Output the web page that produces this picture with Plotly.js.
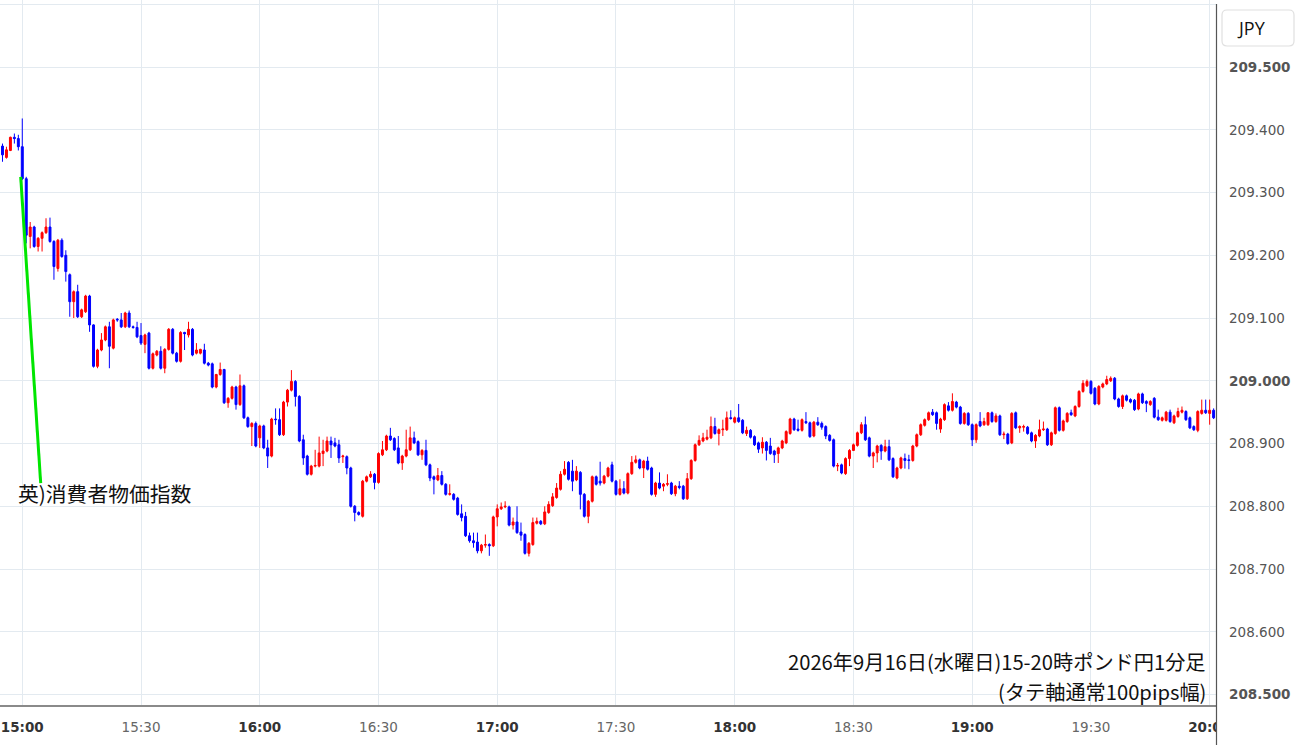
<!DOCTYPE html>
<html>
<head>
<meta charset="utf-8">
<script src="https://cdn.plot.ly/plotly-3.0.1.min.js"></script>
<style>
  html, body { margin: 0; padding: 0; background: #ffffff; }
  #chart { width: 1300px; height: 745px; }
</style>
</head>
<body>
<div id="chart"></div>
<script>
// GBP/JPY 1-minute candles, 2026-09-16 14:55 - 20:01 (one entry per minute)
const firstMinute = -5; // minutes relative to 15:00

const openP = [
209.374,209.356,209.367,209.388,209.386,209.373,209.322,209.230,209.245,209.214,
209.227,209.236,209.245,209.222,209.179,209.224,209.200,209.169,209.126,209.142,
209.102,209.110,209.135,209.089,209.023,209.049,209.065,209.086,209.052,209.098,
209.097,209.086,209.108,209.086,209.085,209.072,209.058,209.076,209.020,209.041,
209.047,209.020,209.050,209.082,209.044,209.031,209.077,209.073,209.082,209.044,
209.044,209.049,209.028,209.027,208.990,209.010,209.018,208.965,208.972,208.990,
208.962,208.992,208.941,208.927,208.932,208.909,208.928,208.893,208.880,208.939,
208.938,208.914,208.966,208.985,208.999,208.975,208.906,208.880,208.851,208.864,
208.864,208.884,208.888,208.904,208.901,208.898,208.879,208.879,208.861,208.800,
208.790,208.784,208.840,208.847,208.851,208.838,208.882,208.890,208.912,208.908,
208.893,208.869,208.880,208.890,208.909,208.903,208.882,208.889,208.866,208.847,
208.842,208.849,208.835,208.819,208.819,208.813,208.788,208.784,208.753,208.745,
208.743,208.729,208.738,208.739,208.737,208.783,208.796,208.799,208.799,208.770,
208.775,208.759,208.755,208.725,208.739,208.773,208.776,208.772,208.790,208.801,
208.814,208.827,208.851,208.870,208.856,208.842,208.854,208.819,208.784,208.808,
208.847,208.840,208.837,208.848,208.866,208.840,208.819,208.828,208.821,208.852,
208.870,208.874,208.861,208.872,208.861,208.819,208.837,208.832,208.835,208.837,
208.820,208.832,208.832,208.812,208.844,208.873,208.898,208.904,208.907,208.909,
208.927,208.916,208.922,208.922,208.941,208.934,208.941,208.937,208.916,208.921,
208.911,208.901,208.893,208.902,208.896,208.888,208.884,208.893,208.901,208.916,
208.939,208.923,208.921,208.935,208.933,208.912,208.934,208.932,208.927,208.913,
208.906,208.864,208.866,208.852,208.876,208.889,208.897,208.917,208.930,208.909,
208.880,208.885,208.897,208.888,208.895,208.876,208.845,208.861,208.876,208.874,
208.873,208.896,208.914,208.929,208.938,208.950,208.949,208.923,208.938,208.960,
208.953,208.966,208.958,208.932,208.948,208.930,208.906,208.935,208.930,208.930,
208.949,208.935,208.944,208.914,208.915,208.901,208.949,208.925,208.926,208.926,
208.917,208.904,208.912,208.922,208.923,208.898,208.916,208.957,208.921,208.935,
208.949,208.944,208.959,208.983,208.992,208.999,208.988,208.963,208.990,208.995,
209.000,209.004,208.971,208.959,208.976,208.970,208.969,208.955,208.979,208.967,
208.962,208.972,208.942,208.937,208.937,208.950,208.933,208.943,208.950,208.951,
208.941,208.927,208.921,208.948,208.953,208.948,208.953
];

const highP = [
209.378,209.373,209.389,209.394,209.392,209.418,209.325,209.253,209.247,209.229,
209.238,209.259,209.260,209.224,209.226,209.227,209.208,209.171,209.144,209.153,
209.115,209.137,209.137,209.090,209.051,209.076,209.088,209.094,209.099,209.100,
209.108,209.110,209.112,209.088,209.094,209.092,209.075,209.078,209.045,209.049,
209.055,209.052,209.084,209.084,209.046,209.079,209.078,209.094,209.084,209.060,
209.051,209.059,209.030,209.029,209.011,209.029,209.019,208.974,208.992,208.992,
209.010,208.994,208.943,208.934,208.935,208.930,208.930,208.906,208.941,208.956,
208.956,208.968,208.987,209.017,209.001,208.977,208.914,208.882,208.866,208.890,
208.911,208.906,208.911,208.911,208.909,208.906,208.882,208.881,208.863,208.802,
208.792,208.842,208.849,208.856,208.853,208.886,208.904,208.914,208.925,208.910,
208.912,208.882,208.922,208.927,208.919,208.905,208.891,208.906,208.868,208.849,
208.861,208.856,208.837,208.835,208.821,208.815,208.803,208.791,208.758,208.758,
208.758,208.740,208.755,208.741,208.785,208.803,208.806,208.808,208.801,208.782,
208.800,208.774,208.757,208.743,208.782,208.782,208.778,208.800,208.808,208.821,
208.837,208.856,208.872,208.872,208.874,208.864,208.856,208.821,208.810,208.849,
208.849,208.871,208.850,208.863,208.871,208.842,208.843,208.840,208.854,208.880,
208.881,208.876,208.874,208.879,208.863,208.839,208.854,208.837,208.851,208.839,
208.834,208.840,208.834,208.853,208.875,208.900,208.913,208.917,208.922,208.943,
208.941,208.924,208.938,208.951,208.953,208.943,208.963,208.939,208.927,208.923,
208.913,208.903,208.910,208.904,208.909,208.890,208.895,208.906,208.921,208.941,
208.941,208.938,208.940,208.950,208.935,208.936,208.942,208.935,208.929,208.915,
208.908,208.869,208.868,208.878,208.891,208.900,208.919,208.934,208.943,208.911,
208.887,208.898,208.899,208.906,208.906,208.878,208.863,208.879,208.884,208.882,
208.898,208.916,208.932,208.940,208.951,208.955,208.951,208.941,208.964,208.966,
208.980,208.968,208.960,208.950,208.950,208.932,208.932,208.950,208.941,208.950,
208.951,208.948,208.946,208.919,208.917,208.950,208.951,208.929,208.930,208.928,
208.919,208.915,208.938,208.935,208.925,208.919,208.959,208.959,208.938,208.950,
208.954,208.961,208.985,209.001,209.002,209.001,208.990,208.993,208.997,209.008,
209.007,209.006,208.973,208.978,208.978,208.972,208.971,208.981,208.981,208.969,
208.969,208.974,208.954,208.943,208.952,208.954,208.946,208.957,208.959,208.953,
208.943,208.929,208.953,208.970,208.970,208.970,208.956
];

const lowP = [
209.349,209.354,209.366,209.378,209.367,209.320,209.219,209.211,209.212,209.206,
209.206,209.234,209.220,209.161,209.174,209.196,209.158,209.102,209.100,209.100,
209.100,209.108,209.078,209.021,209.020,209.047,209.063,209.020,209.050,209.094,
209.084,209.084,209.084,209.083,209.068,209.057,209.044,209.018,209.018,209.039,
209.018,209.012,209.048,209.042,209.029,209.029,209.049,209.069,209.039,209.042,
209.042,209.026,209.023,208.988,208.988,209.008,208.963,208.957,208.970,208.954,
208.960,208.939,208.925,208.896,208.894,208.893,208.891,208.861,208.878,208.930,
208.912,208.912,208.959,208.983,208.959,208.902,208.866,208.849,208.849,208.862,
208.862,208.864,208.886,208.877,208.894,208.869,208.869,208.851,208.798,208.776,
208.785,208.782,208.838,208.845,208.827,208.836,208.880,208.888,208.904,208.888,
208.867,208.858,208.878,208.888,208.899,208.880,208.874,208.864,208.840,208.819,
208.840,208.833,208.817,208.817,208.809,208.785,208.776,208.751,208.742,208.734,
208.725,208.725,208.734,208.721,208.735,208.768,208.794,208.797,208.768,208.763,
208.756,208.745,208.723,208.720,208.737,208.771,208.770,208.770,208.788,208.799,
208.812,208.825,208.849,208.841,208.824,208.840,208.795,208.782,208.773,208.806,
208.833,208.833,208.835,208.846,208.838,208.817,208.817,208.819,208.819,208.850,
208.868,208.859,208.845,208.857,208.817,208.815,208.827,208.824,208.832,208.818,
208.816,208.827,208.810,208.810,208.842,208.871,208.896,208.902,208.905,208.907,
208.914,208.897,208.912,208.920,208.938,208.932,208.933,208.915,208.912,208.908,
208.896,208.885,208.884,208.873,208.882,208.869,208.869,208.891,208.899,208.914,
208.920,208.919,208.919,208.931,208.909,208.910,208.928,208.922,208.907,208.903,
208.862,208.856,208.851,208.850,208.864,208.888,208.895,208.915,208.904,208.878,
208.861,208.870,208.874,208.886,208.872,208.845,208.843,208.859,208.860,208.859,
208.871,208.894,208.912,208.927,208.936,208.944,208.922,208.917,208.936,208.951,
208.951,208.956,208.930,208.930,208.928,208.896,208.901,208.926,208.928,208.928,
208.933,208.933,208.912,208.907,208.898,208.899,208.923,208.917,208.919,208.914,
208.902,208.893,208.910,208.920,208.896,208.896,208.914,208.919,208.919,208.933,
208.944,208.942,208.957,208.981,208.990,208.978,208.961,208.961,208.988,208.993,
208.998,208.969,208.957,208.955,208.967,208.964,208.952,208.953,208.963,208.950,
208.960,208.940,208.936,208.935,208.935,208.933,208.931,208.941,208.948,208.936,
208.923,208.920,208.918,208.946,208.947,208.930,208.939
];

const closeP = [
209.360,209.368,209.388,209.386,209.373,209.322,209.232,209.245,209.214,209.227,
209.236,209.245,209.222,209.182,209.224,209.198,209.174,209.126,209.142,209.102,
209.113,209.135,209.089,209.023,209.049,209.065,209.086,209.055,209.097,209.097,
209.086,209.108,209.086,209.085,209.070,209.060,209.073,209.020,209.043,209.047,
209.020,209.050,209.082,209.044,209.031,209.077,209.075,209.082,209.041,209.049,
209.050,209.028,209.025,208.990,209.010,209.018,208.965,208.972,208.990,208.962,
208.992,208.941,208.927,208.932,208.896,208.928,208.893,208.880,208.939,208.938,
208.914,208.966,208.985,208.999,208.975,208.904,208.877,208.851,208.864,208.865,
208.885,208.888,208.904,208.898,208.896,208.877,208.880,208.861,208.800,208.790,
208.787,208.840,208.847,208.851,208.838,208.884,208.890,208.912,208.906,208.890,
208.869,208.880,208.890,208.909,208.901,208.882,208.889,208.866,208.845,208.843,
208.849,208.835,208.819,208.820,208.811,208.787,208.782,208.753,208.745,208.742,
208.729,208.738,208.739,208.737,208.783,208.796,208.799,208.800,208.770,208.775,
208.758,208.754,208.725,208.741,208.774,208.776,208.772,208.791,208.803,208.815,
208.829,208.851,208.859,208.843,208.840,208.856,208.819,208.784,208.808,208.847,
208.835,208.837,208.848,208.861,208.840,208.819,208.828,208.821,208.852,208.870,
208.874,208.861,208.872,208.859,208.819,208.837,208.829,208.835,208.836,208.820,
208.832,208.830,208.812,208.844,208.873,208.898,208.905,208.909,208.910,208.927,
208.916,208.922,208.923,208.941,208.940,208.941,208.935,208.917,208.921,208.910,
208.898,208.891,208.902,208.889,208.884,208.882,208.893,208.904,208.919,208.939,
208.922,208.921,208.938,208.933,208.911,208.934,208.930,208.926,208.912,208.905,
208.864,208.865,208.853,208.876,208.889,208.898,208.917,208.930,208.906,208.880,
208.885,208.896,208.888,208.895,208.874,208.847,208.861,208.877,208.873,208.873,
208.896,208.914,208.930,208.938,208.949,208.946,208.932,208.939,208.962,208.953,
208.967,208.958,208.932,208.948,208.930,208.906,208.930,208.928,208.935,208.949,
208.935,208.944,208.914,208.915,208.900,208.948,208.925,208.927,208.927,208.916,
208.904,208.913,208.922,208.923,208.898,208.917,208.957,208.921,208.936,208.948,
208.946,208.959,208.983,208.996,208.999,208.980,208.963,208.991,208.995,209.002,
209.004,208.971,208.959,208.976,208.969,208.966,208.954,208.979,208.965,208.964,
208.967,208.942,208.938,208.941,208.950,208.935,208.944,208.951,208.953,208.938,
208.925,208.922,208.951,208.953,208.949,208.953,208.941
];

const xTickMinutes = [0, 30, 60, 90, 120, 150, 180, 210, 240, 270, 300];
const xTickLabels = ['15:00','15:30','16:00','16:30','17:00','17:30','18:00','18:30','19:00','19:30','20:00'];
const yTickValues = [208.5, 208.6, 208.7, 208.8, 208.9, 209.0, 209.1, 209.2, 209.3, 209.4, 209.5, 209.6];
const yTickLabels = ['208.500','208.600','208.700','208.800','208.900','209.000','209.100','209.200','209.300','209.400','209.500',''];

const eventLabel = '英)消費者物価指数';
const titleLine1 = '2026年9月16日(水曜日)15-20時ポンド円1分足';
const titleLine2 = '(タテ軸通常100pips幅)';
const currencyLabel = 'JPY';

// time helper: minutes relative to 2026-09-16 15:00
function ts(min) {
  const d = new Date(Date.UTC(2026, 8, 16, 15, 0, 0) + Math.round(min * 60000));
  return d.toISOString().slice(0, 23).replace('T', ' ');
}
const times = closeP.map((_, i) => ts(firstMinute + i));

// plot geometry (pixels)
const W = 1300, H = 745;
const M = {l: 0, r: 84, t: 0, b: 40};
const PW = W - M.l - M.r, PH = H - M.t - M.b;
const px = p => (p - M.l) / PW;          // pixel x -> paper x
const py = p => (H - M.b - p) / PH;      // pixel y -> paper y

const yTickText = yTickLabels.map((t, i) => {
  const v = yTickValues[i];
  const bold = Math.abs(v * 2 - Math.round(v * 2)) < 1e-6;
  return (bold && t) ? '<b>' + t + '</b>' : t;
});
const xTickText = xTickLabels.map((t, i) =>
  xTickMinutes[i] % 60 === 0 ? '<span style="color:#333"><b>' + t + '</b></span>' : t);

const trace = {
  type: 'candlestick',
  x: times,
  open: openP, high: highP, low: lowP, close: closeP,
  increasing: {line: {color: '#ff0000', width: 1}, fillcolor: '#ff0000'},
  decreasing: {line: {color: '#0000ff', width: 1}, fillcolor: '#0000ff'},
  whiskerwidth: 0,
  hoverinfo: 'none',
  showlegend: false
};

// rounded box for currency label
const bx0 = px(1222), bx1 = px(1294), byT = py(10), byB = py(46);
const rx = 5 / PW, ry = 5 / PH;
const boxPath = `M ${bx0+rx},${byT} L ${bx1-rx},${byT} Q ${bx1},${byT} ${bx1},${byT-ry} ` +
  `L ${bx1},${byB+ry} Q ${bx1},${byB} ${bx1-rx},${byB} L ${bx0+rx},${byB} ` +
  `Q ${bx0},${byB} ${bx0},${byB+ry} L ${bx0},${byT-ry} Q ${bx0},${byT} ${bx0+rx},${byT} Z`;

const layout = {
  width: W, height: H,
  margin: M,
  paper_bgcolor: '#ffffff',
  plot_bgcolor: '#ffffff',
  showlegend: false,
  hovermode: false,
  dragmode: false,
  boxgap: 0.3,
  xaxis: {
    type: 'date',
    range: [ts(-5.63), ts(301.6)],
    tickmode: 'array',
    tickvals: xTickMinutes.map(ts),
    ticktext: xTickText,
    tickfont: {family: 'DejaVu Sans', size: 13.5, color: '#666'},
    ticks: '',
    ticklabelstandoff: 9,
    showgrid: true,
    gridcolor: '#e3eaf0',
    gridwidth: 1,
    showline: true,
    linecolor: '#8a8a8a',
    linewidth: 1.5,
    zeroline: false,
    rangeslider: {visible: false},
    fixedrange: true
  },
  yaxis: {
    side: 'right',
    range: [208.4833, 209.6068],
    tickmode: 'array',
    tickvals: yTickValues,
    ticktext: yTickText,
    tickfont: {family: 'DejaVu Sans', size: 13.5, color: '#555'},
    ticks: '',
    ticklabelstandoff: 12,
    showgrid: true,
    gridcolor: '#e3eaf0',
    gridwidth: 1,
    showline: false,
    zeroline: false,
    fixedrange: true
  },
  shapes: [
    // news marker line
    {type: 'line', xref: 'x', yref: 'y', x0: ts(-0.4), y0: 209.325, x1: ts(4.65), y1: 208.837,
     line: {color: '#00e600', width: 3}, layer: 'above'},
    // cover under the price scale (clips last time label)
    {type: 'rect', xref: 'paper', yref: 'paper', x0: px(1216.6), x1: px(1300), y0: py(745), y1: py(706.5),
     fillcolor: '#ffffff', line: {width: 0}, layer: 'above'},
    // price scale separator
    {type: 'line', xref: 'paper', yref: 'paper', x0: px(1216.5), x1: px(1216.5), y0: py(745), y1: py(4),
     line: {color: '#555555', width: 1.2}, layer: 'above'},
    // currency box
    {type: 'path', xref: 'paper', yref: 'paper', path: boxPath,
     line: {color: '#e0e0e0', width: 1.2}, fillcolor: 'rgba(0,0,0,0)', layer: 'above'}
  ],
  annotations: [
    {xref: 'paper', yref: 'paper', x: px(1235), y: py(28), xanchor: 'left', yanchor: 'middle',
     text: currencyLabel, showarrow: false,
     font: {family: 'Open Sans', size: 18, color: '#111'}},
    {xref: 'paper', yref: 'paper', x: px(16), y: py(493), xanchor: 'left', yanchor: 'middle',
     text: eventLabel, showarrow: false,
     font: {family: 'Noto Sans CJK JP', size: 20.8, color: '#111'}},
    {xref: 'paper', yref: 'paper', x: px(1207), y: py(661.5), xanchor: 'right', yanchor: 'middle',
     text: titleLine1, showarrow: false, borderpad: 0,
     font: {family: 'Noto Sans CJK JP', size: 20.2, color: '#111'}},
    {xref: 'paper', yref: 'paper', x: px(1207), y: py(691.5), xanchor: 'right', yanchor: 'middle',
     text: titleLine2, showarrow: false, borderpad: 0,
     font: {family: 'Noto Sans CJK JP', size: 20.2, color: '#111'}}
  ]
};

Plotly.newPlot('chart', [trace], layout, {staticPlot: true, displayModeBar: false, responsive: false});
</script>
</body>
</html>
